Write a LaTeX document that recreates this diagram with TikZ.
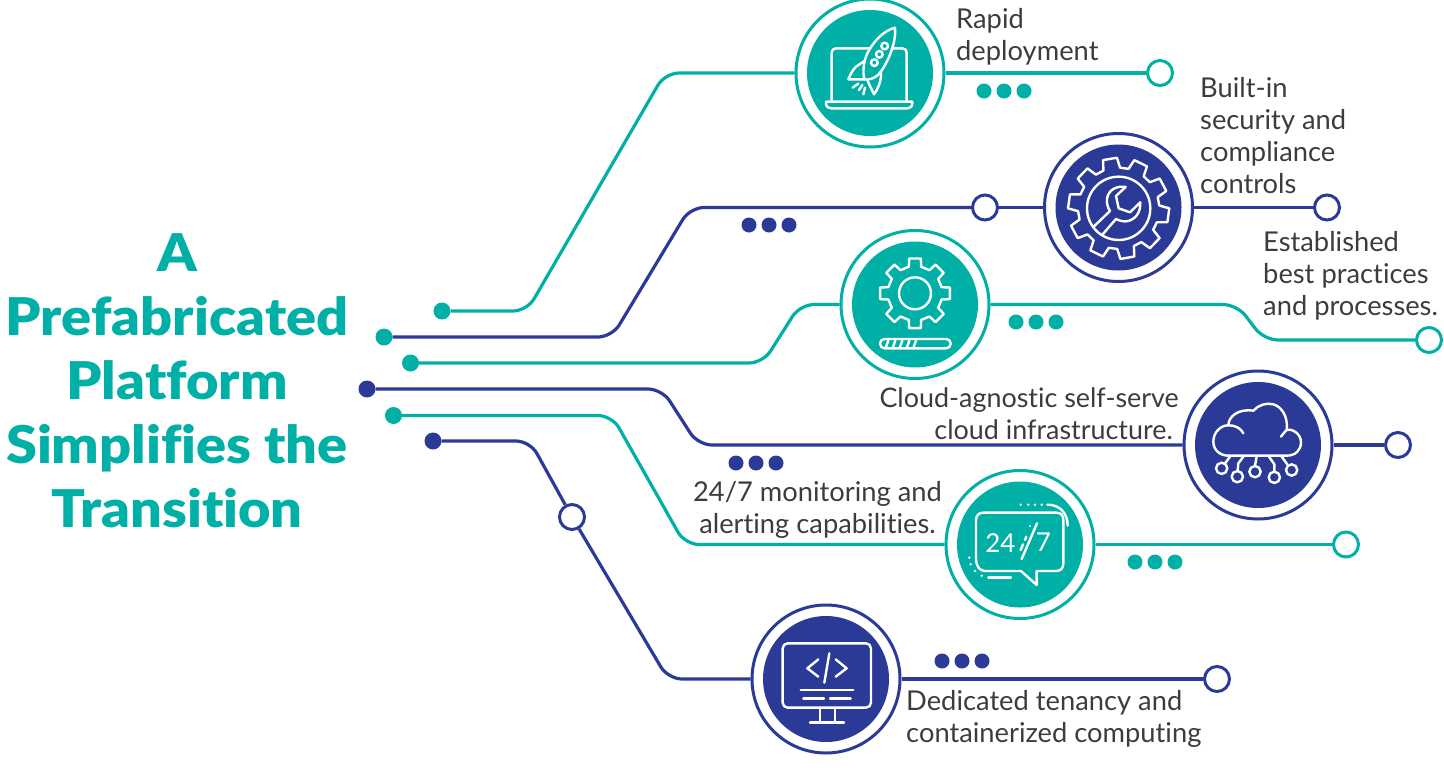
\documentclass[tikz,border=0pt]{standalone}
\usepackage{fontspec}
\setmainfont{Lato}[Ligatures=NoCommon]
\newfontfamily\headfont{Lato Black}[Ligatures=NoCommon,FakeStretch=1.075]
\definecolor{tealc}{HTML}{00B0A6}
\definecolor{bluec}{HTML}{2B3A97}
\definecolor{textc}{HTML}{3C3C3E}
\tikzset{
  hubout/.style={circle,draw=#1,fill=white,line width=3pt,minimum size=148pt,inner sep=0pt},
  hubin/.style={circle,fill=#1,minimum size=126pt,inner sep=0pt},
  startdot/.style={circle,fill=#1,minimum size=17pt,inner sep=0pt},
  enddot/.style={circle,draw=#1,fill=white,line width=3pt,minimum size=25pt,inner sep=0pt},
  smalldot/.style={circle,fill=#1,minimum size=15pt,inner sep=0pt},
  wire/.style={draw=#1,line width=3.2pt,rounded corners=14pt},
  wireplain/.style={draw=#1,line width=3.2pt},
  icon/.style={draw=white,line width=2.4pt,line cap=round,line join=round},
  label/.style={text=textc,font=\fontsize{27.3}{32}\selectfont,inner sep=0pt},
  headline/.style={text=tealc,font=\fontsize{52}{64}\selectfont\headfont,align=center,inner sep=0pt},
}
\newcommand{\gearring}[6]{% teeth, rout, rin, start, halfout, halfin
  \draw[icon] (#4-#6:#3)
  \foreach \k in {1,...,#1}{
    \pgfextra{\pgfmathsetmacro{\ang}{#4+(\k-1)*360/#1}}
    -- (\ang-#6:#3) -- (\ang-#5:#2) -- (\ang+#5:#2) -- (\ang+#6:#3)
  } -- cycle;
}
\begin{document}
\begin{tikzpicture}[x=1pt,y=-1pt]
\useasboundingbox (0,0) rectangle (1444,769);
% hubs
\node[hubout=tealc] (h1) at (870,73) {};
\node[hubout=bluec] (h2) at (1118.5,207.5) {};
\node[hubout=tealc] (h3) at (915,304.5) {};
\node[hubout=bluec] (h4) at (1258,445) {};
\node[hubout=tealc] (h5) at (1020,544.5) {};
\node[hubout=bluec] (h6) at (826,679) {};
% start dots
\node[startdot=tealc] (s1) at (442,311) {};
\node[startdot=tealc] (s2) at (384,337) {};
\node[startdot=tealc] (s3) at (410.5,363) {};
\node[startdot=bluec] (s4) at (367,389) {};
\node[startdot=tealc] (s5) at (393.5,415.5) {};
\node[startdot=bluec] (s6) at (433,441) {};
% open circles
\node[enddot=tealc] (e1) at (1160,73) {};
\node[enddot=bluec] (m2) at (985,207.5) {};
\node[enddot=bluec] (e2) at (1327,207.5) {};
\node[enddot=tealc] (e3) at (1429,340) {};
\node[enddot=bluec] (e4) at (1398,445) {};
\node[enddot=tealc] (e5) at (1346,544.5) {};
\node[enddot=bluec] (m6) at (572,517) {};
\node[enddot=bluec] (e6) at (1217,679) {};
% bend coordinates
\coordinate (b1a) at (527,311); \coordinate (b1b) at (665,73);
\coordinate (b2a) at (612,337); \coordinate (b2b) at (690,207.5);
\coordinate (b3a) at (763,363); \coordinate (b3b) at (800,304.5);
\coordinate (b3c) at (1237,304.5); \coordinate (b3d) at (1264,340);
\coordinate (b4a) at (662,389); \coordinate (b4b) at (698,445);
\coordinate (b5a) at (612,415.5); \coordinate (b5b) at (685,544.5);
\coordinate (b6a) at (530,441); \coordinate (b6b) at (668,679);
% connectors
\draw[wire=tealc] (s1.east) -- (b1a) -- (b1b) -- (h1.west);
\draw[wireplain=tealc] (h1.east) -- (e1.west);
\draw[wire=bluec] (s2.east) -- (b2a) -- (b2b) -- (m2.west);
\draw[wireplain=bluec] (m2.east) -- (h2.west);
\draw[wireplain=bluec] (h2.east) -- (e2.west);
\draw[wire=tealc] (s3.east) -- (b3a) -- (b3b) -- (h3.west);
\draw[wire=tealc] (h3.east) -- (b3c) -- (b3d) -- (e3.west);
\draw[wire=bluec] (s4.east) -- (b4a) -- (b4b) -- (h4.west);
\draw[wireplain=bluec] (h4.east) -- (e4.west);
\draw[wire=tealc] (s5.east) -- (b5a) -- (b5b) -- (h5.west);
\draw[wireplain=tealc] (h5.east) -- (e5.west);
\draw[wire=bluec] (s6.east) -- (b6a) -- (m6);
\draw[wire=bluec] (m6) -- (b6b) -- (h6.west);
\draw[wireplain=bluec] (h6.east) -- (e6.west);
% inner discs
\node[hubin=tealc] at (h1) {};
\node[hubin=bluec] at (h2) {};
\node[hubin=tealc] at (h3) {};
\node[hubin=bluec] at (h4) {};
\node[hubin=tealc] at (h5) {};
\node[hubin=bluec] at (h6) {};
% three-dot groups
\foreach \n/\c/\x/\y in {a/tealc/984/91,b/bluec/749/225,c/tealc/1016/322,d/bluec/736/463,e/tealc/1135/562,f/bluec/942/661}{
  \foreach \i in {0,1,2}{
    \node[smalldot=\c] (t\n\i) at (\x+\i*20,\y) {};
  }
}
% Rocket icon
\begin{scope}[shift={(780,0)},x=0.3333pt,y=-0.3333pt]
\draw[icon] (155,300) -- (155,158) .. controls (155,150) and (160,145) .. (168,145) -- (268,145);
\draw[icon] (335,145) -- (367,145) .. controls (375,145) and (380,150) .. (380,158) -- (380,300);
\draw[icon] (138,305) -- (397,305) -- (397,310) .. controls (397,320) and (390,325) .. (382,325) -- (153,325) .. controls (145,325) and (138,320) .. (138,310) -- cycle;
\draw[icon] (345,83) .. controls (310,92) and (280,125) .. (262,160) .. controls (250,185) and (248,215) .. (253,238) .. controls (265,240) and (280,238) .. (297,222) .. controls (320,195) and (350,130) .. (345,83) -- cycle;
\draw[icon] (253,183) -- (228,200) .. controls (218,210) and (210,225) .. (205,238) -- (253,238);
\draw[icon] (303,215) .. controls (305,240) and (295,265) .. (282,283) -- (263,243);
\draw[icon] (283,188) circle[radius=10];
\draw[icon] (298,163) circle[radius=10];
\draw[icon] (314,138) circle[radius=10];
\draw[icon] (218,263) -- (235,251);
\draw[icon] (237,270) -- (247,255);
\draw[icon] (250,283) -- (255,263);
\end{scope}
% Wrench gear icon
\begin{scope}[shift={(1030,125)},x=0.3333pt,y=-0.3333pt]
\begin{scope}[shift={(266,250)}]
\gearring{10}{152}{122}{8}{8}{12}
\draw[icon] (0,0) circle[radius=95];
\end{scope}
\draw[icon] (190,306) -- (240,258) .. controls (225,235) and (228,205) .. (250,192) .. controls (262,185) and (275,184) .. (287,186) -- (258,213) -- (266,250) -- (300,262) -- (331,232) .. controls (332,260) and (320,280) .. (295,288) .. controls (282,291) and (270,288) .. (258,282) -- (218,328);
\end{scope}
% Progress gear icon
\begin{scope}[shift={(830,225)},x=0.3333pt,y=-0.3333pt]
\begin{scope}[shift={(255,205)}]
\gearring{8}{106}{82}{0}{9.5}{13}
\draw[icon] (0,0) circle[radius=48];
\end{scope}
\draw[icon,rounded corners=4.5pt] (150,342) rectangle (362,370);
\foreach \q in {175,196,217,238,258}{\draw[icon] (\q,347) -- (\q-7,366);}
\end{scope}
% Cloud icon
\begin{scope}[shift={(1175,365)},x=0.3333pt,y=-0.3333pt]
\draw[icon] (160,272) -- (335,272) .. controls (362,272) and (378,255) .. (378,232) .. controls (378,205) and (350,190) .. (335,195) .. controls (333,197) and (325,205) .. (318,215);
\draw[icon] (160,272) .. controls (135,272) and (115,255) .. (115,230) .. controls (115,200) and (140,180) .. (160,181) .. controls (180,180) and (198,190) .. (205,205);
\draw[icon] (160,181) .. controls (160,155) and (190,130) .. (235,137) .. controls (250,120) and (275,112) .. (295,118) .. controls (320,125) and (340,155) .. (335,195);
\foreach \u/\v in {140/310,187/335,240/320,298/337,350/315}{\draw[icon] (\u,\v) circle[radius=17];}
\draw[icon] (165,275) -- (150,295);
\draw[icon] (205,275) -- (190,295) -- (188,318);
\draw[icon] (245,275) -- (240,302);
\draw[icon] (282,275) -- (298,298) -- (298,320);
\draw[icon] (320,275) -- (337,298);
\end{scope}
% 24/7 icon
\begin{scope}[shift={(935,465)},x=0.3333pt,y=-0.3333pt]
\draw[icon] (123,280) -- (123,165) .. controls (123,150) and (133,143) .. (145,143) -- (363,143) .. controls (377,143) and (385,150) .. (385,165) -- (385,296) .. controls (385,310) and (377,318) .. (363,318) -- (305,318) -- (305,360) -- (258,318) -- (150,318) .. controls (135,318) and (123,305) .. (123,280);
\draw[icon] (337,119) .. controls (375,119) and (398,145) .. (398,182);
\draw[icon] (160,338) -- (228,338);
\foreach \u/\v in {257/119,280/119,300/119,320/119,103/278,107/298,120/318,140/332}{\fill[white] (\u,\v) circle[radius=4];}
\node[text=white,font=\fontsize{26}{26}\selectfont,inner sep=0pt] (t24) at (196,233) {24};
\node[text=white,font=\fontsize{26}{26}\selectfont,inner sep=0pt] (t7) at (325,233) {7};
\draw[icon] (260,282) -- (306,175);
\draw[icon] (257,255) -- (264,238);
\draw[icon] (270,225) -- (274,215);
\fill[white] (285,183) circle[radius=3];
\end{scope}
% Monitor icon
\begin{scope}[shift={(745,600)},x=0.3333pt,y=-0.3333pt]
\draw[icon,rounded corners=5pt] (113,130) rectangle (378,323);
\draw[icon] (220,178) -- (187,205) -- (220,230);
\draw[icon] (272,178) -- (305,205) -- (272,230);
\draw[icon] (253,160) -- (238,248);
\draw[icon] (167,270) -- (325,270);
\draw[icon] (175,295) -- (237,295);
\draw[icon] (255,295) -- (317,295);
\draw[icon] (225,323) -- (225,367);
\draw[icon] (270,323) -- (270,367);
\draw[icon] (195,367) -- (297,367);
\end{scope}
% labels
\node[headline] (title) at (177,381) {A\\Prefabricated\\Platform\\Simplifies the\\Transition};
\node[label,anchor=west,align=left] (l1) at (956,37) {Rapid\\deployment};
\node[label,anchor=west,align=left] (l2) at (1200,136) {Built-in\\security and\\compliance\\controls};
\node[label,anchor=west,align=left] (l3) at (1263,276) {Established\\best practices\\and processes.};
\node[label,anchor=east,align=right,font=\fontsize{26.9}{32}\selectfont] (l4) at (1179,414) {Cloud-agnostic self-serve\\cloud infrastructure.\hspace*{6pt}};
\node[label,align=center] (l5) at (817.5,510) {24/7 monitoring and\\alerting capabilities.};
\node[label,anchor=west,align=left] (l6) at (906,719) {Dedicated tenancy and\\containerized computing};
\end{tikzpicture}
\end{document}
